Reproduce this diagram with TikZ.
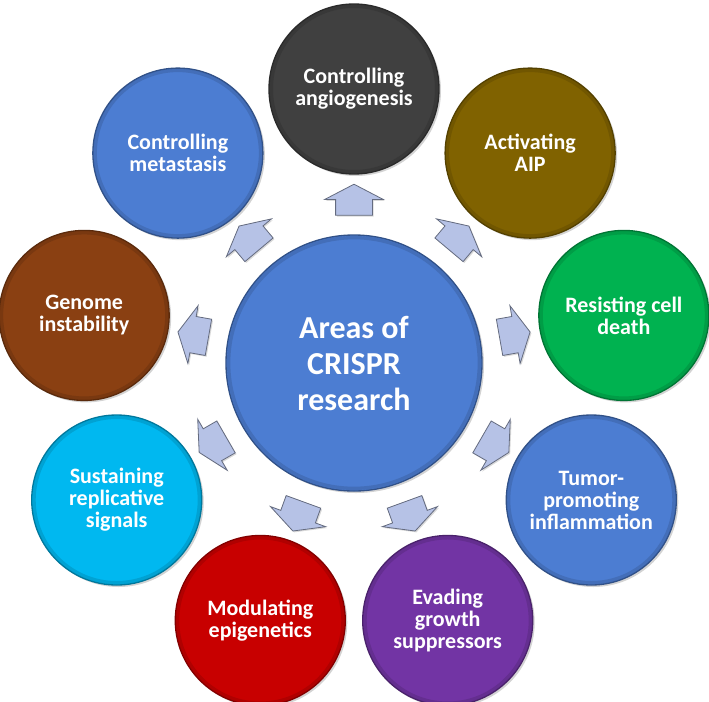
\documentclass[tikz,border=0pt]{standalone}
\usepackage{fontspec}
\setmainfont{Carlito}
\usepackage{xcolor}
\usepackage{tikz}
\usetikzlibrary{shapes.arrows, calc, shadows}

\definecolor{hubblue}{RGB}{76,125,210}
\definecolor{anggray}{RGB}{64,64,64}
\definecolor{aipolive}{RGB}{128,98,0}
\definecolor{deathgreen}{RGB}{0,178,80}
\definecolor{evadepurple}{RGB}{114,52,164}
\definecolor{epired}{RGB}{200,0,0}
\definecolor{signalcyan}{RGB}{0,184,240}
\definecolor{genomebrown}{RGB}{138,64,18}
\definecolor{arrowblue}{RGB}{182,194,230}

\begin{document}
\begin{tikzpicture}[x=0.75pt, y=0.75pt,
  hub/.style={circle, minimum size=192pt, fill=hubblue, draw=hubblue!65!black, line width=1pt,
    text=white, align=center, font=\bfseries\fontsize{24}{27}\selectfont,
    path picture={\draw[hubblue!88!black, line width=2.5pt]
      (path picture bounding box.center) circle (94pt);},
    drop shadow={shadow xshift=1.5pt, shadow yshift=-1.5pt, opacity=0.35}},
  area/.style={circle, minimum size=127.5pt, fill=#1, draw=#1!65!black, line width=1pt,
    text=white, align=center, font=\bfseries\fontsize{16.5}{16.5}\selectfont,
    path picture={\draw[#1!88!black, line width=2.5pt]
      (path picture bounding box.center) circle (62pt);},
    drop shadow={shadow xshift=1.5pt, shadow yshift=-1.5pt, opacity=0.35}},
  blockarrow/.style={single arrow, fill=arrowblue, draw=arrowblue!55!black, line width=0.6pt,
    minimum height=23.25pt, inner xsep=0pt, inner ysep=13.5pt,
    single arrow head extend=8.25pt, single arrow tip angle=125,
    drop shadow={shadow xshift=1pt, shadow yshift=-1pt, opacity=0.3}}]
\useasboundingbox (-354,-338) rectangle (355,363);

% Central topic
\node[hub] (hub) at (0,0) {Areas of\\CRISPR\\research};

% Research areas
\node[area=anggray] (ang) at (90:274) {Controlling\\angiogenesis};
\node[area=aipolive] (aip) at (50:274) {Activating\\AIP};
\node[area=deathgreen] (death) at (10:274) {Resisting cell\\death};
\node[area=hubblue] (inflam) at (-30:274) {Tumor-\\promoting\\inflammation};
\node[area=evadepurple] (evade) at (-70:274) {Evading\\growth\\suppressors};
\node[area=epired] (epi) at (-110:274) {Modulating\\epigenetics};
\node[area=signalcyan] (signal) at (-150:274) {Sustaining\\replicative\\signals};
\node[area=genomebrown] (genome) at (170:274) {Genome\\instability};
\node[area=hubblue] (meta) at (130:274) {Controlling\\metastasis};

% Block arrows from the hub
\node[blockarrow, rotate=90] (a-ang) at ($(hub.90)!0.5!(ang.270)$) {};
\node[blockarrow, rotate=50] (a-aip) at ($(hub.50)!0.5!(aip.230)$) {};
\node[blockarrow, rotate=10] (a-death) at ($(hub.10)!0.5!(death.190)$) {};
\node[blockarrow, rotate=-30] (a-inflam) at ($(hub.-30)!0.5!(inflam.150)$) {};
\node[blockarrow, rotate=-70] (a-evade) at ($(hub.-70)!0.5!(evade.110)$) {};
\node[blockarrow, rotate=-110] (a-epi) at ($(hub.-110)!0.5!(epi.70)$) {};
\node[blockarrow, rotate=-150] (a-signal) at ($(hub.-150)!0.5!(signal.30)$) {};
\node[blockarrow, rotate=170] (a-genome) at ($(hub.170)!0.5!(genome.-10)$) {};
\node[blockarrow, rotate=130] (a-meta) at ($(hub.130)!0.5!(meta.-50)$) {};
\end{tikzpicture}
\end{document}
